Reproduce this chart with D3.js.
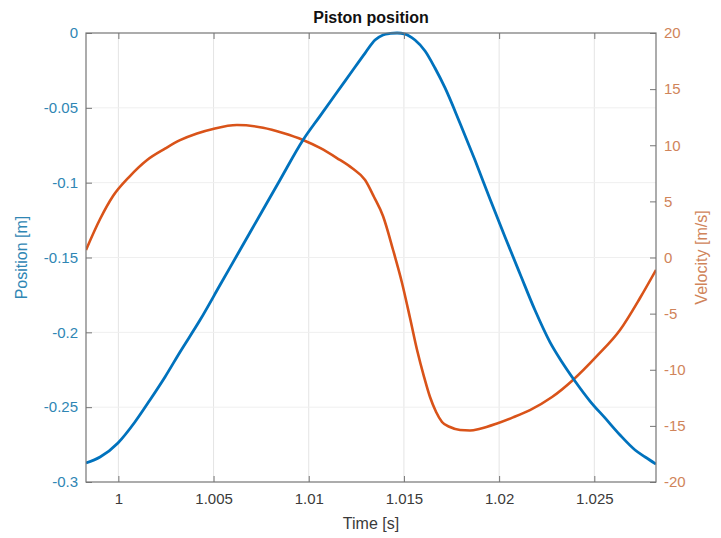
<!DOCTYPE html>
<html>
<head>
<meta charset="utf-8">
<script src="https://cdn.jsdelivr.net/npm/d3@7"></script>
<style>
  html, body { margin: 0; padding: 0; background: #ffffff; }
  svg { display: block; font-family: "Liberation Sans", Arial, Helvetica, sans-serif; }
</style>
</head>
<body>
<svg id="chart" width="721" height="538"></svg>
<script>
// ---- data ----
const xTicks = [1, 1.005, 1.01, 1.015, 1.02, 1.025];
const xTickLabels = ["1", "1.005", "1.01", "1.015", "1.02", "1.025"];
const posTicks = [0, -0.05, -0.1, -0.15, -0.2, -0.25, -0.3];
const posTickLabels = ["0", "-0.05", "-0.1", "-0.15", "-0.2", "-0.25", "-0.3"];
const velTicks = [20, 15, 10, 5, 0, -5, -10, -15, -20];
const velTickLabels = ["20", "15", "10", "5", "0", "-5", "-10", "-15", "-20"];

const posTime = [0.99830, 0.99904, 0.99998, 1.00087, 1.00166, 1.00245, 1.00324, 1.00429, 1.00534,
  1.00639, 1.00744, 1.00849, 1.00970, 1.01059, 1.01138, 1.01217, 1.01296, 1.01348, 1.01390,
  1.01428, 1.01464, 1.01506, 1.01558, 1.01611, 1.01663, 1.01716, 1.01794, 1.01873, 1.01952,
  1.02031, 1.02110, 1.02188, 1.02267, 1.02330, 1.02398, 1.02477, 1.02556, 1.02635, 1.02714,
  1.02767, 1.02824];
const posValues = [-0.2873, -0.2833, -0.2739, -0.2599, -0.2452, -0.2298, -0.2131, -0.1918, -0.1684,
  -0.1450, -0.1216, -0.0982, -0.0715, -0.0555, -0.0414, -0.0274, -0.0134, -0.0047, -0.0013,
  -0.0003, 0.0000, -0.0007, -0.0047, -0.0120, -0.0234, -0.0367, -0.0601, -0.0849, -0.1109,
  -0.1363, -0.1610, -0.1851, -0.2065, -0.2198, -0.2325, -0.2459, -0.2572, -0.2686, -0.2786,
  -0.2833, -0.2880];

const velTime = [0.99830, 0.99904, 0.99972, 1.00056, 1.00151, 1.00245, 1.00324, 1.00413, 1.00497,
  1.00623, 1.00760, 1.00865, 1.00970, 1.01059, 1.01148, 1.01227, 1.01296, 1.01343, 1.01390,
  1.01443, 1.01490, 1.01532, 1.01569, 1.01606, 1.01637, 1.01669, 1.01700, 1.01742, 1.01795,
  1.01847, 1.01900, 1.01989, 1.02073, 1.02162, 1.02278, 1.02388, 1.02514, 1.02635, 1.02740,
  1.02824];
const velValues = [0.67, 3.43, 5.48, 7.17, 8.69, 9.70, 10.45, 11.05, 11.45,
  11.80, 11.56, 11.09, 10.47, 9.76, 8.86, 7.97, 6.90, 5.39, 3.70,
  0.67, -2.27, -5.39, -8.24, -10.65, -12.43, -13.76, -14.65, -15.10, -15.37,
  -15.41, -15.25, -14.78, -14.24, -13.59, -12.43, -10.91, -8.77, -6.46, -3.61,
  -1.11];

// ---- layout ----
const L = 86, R = 656, T = 33, B = 482;
const blue = "#0072BD", orange = "#D95319";
const blueText = "#2f86b4", orangeText = "#d0845a";
const svg = d3.select("#chart");

const x = d3.scaleLinear().domain([0.99830, 1.02824]).range([L, R]);
const yL = d3.scaleLinear().domain([-0.3, 0]).range([B, T]);
const yR = d3.scaleLinear().domain([-20, 20]).range([B, T]);

// grid
const grid = svg.append("g");
grid.selectAll("line.vx").data(xTicks).join("line")
  .attr("x1", d => x(d)).attr("x2", d => x(d)).attr("y1", T).attr("y2", B)
  .attr("stroke", "#e4e4e4").attr("stroke-width", 1);
grid.selectAll("line.hy").data(posTicks.slice(1, -1)).join("line")
  .attr("x1", L).attr("x2", R).attr("y1", d => yL(d)).attr("y2", d => yL(d))
  .attr("stroke", "#efefef").attr("stroke-width", 1);

// lines
const posData = posTime.map((t, i) => [t, posValues[i]]);
const velData = velTime.map((t, i) => [t, velValues[i]]);
svg.append("clipPath").attr("id", "clip").append("rect")
  .attr("x", L).attr("y", T - 2).attr("width", R - L).attr("height", B - T + 4);
svg.append("path").datum(velData)
  .attr("clip-path", "url(#clip)")
  .attr("fill", "none").attr("stroke", orange).attr("stroke-width", 2.6)
  .attr("stroke-linejoin", "round")
  .attr("d", d3.line().x(d => x(d[0])).y(d => yR(d[1])).curve(d3.curveMonotoneX));
svg.append("path").datum(posData)
  .attr("clip-path", "url(#clip)")
  .attr("fill", "none").attr("stroke", blue).attr("stroke-width", 2.8)
  .attr("stroke-linejoin", "round")
  .attr("d", d3.line().x(d => x(d[0])).y(d => yL(d[1])).curve(d3.curveMonotoneX));

// axes
const axisColor = "#767676";
const fs = 15;
const gx = svg.append("g").attr("transform", `translate(0,${B})`)
  .call(d3.axisBottom(x).tickValues(xTicks).tickFormat((d, i) => xTickLabels[i]).tickSize(-6).tickPadding(11));
gx.select(".domain").remove();
gx.selectAll("line").attr("stroke", axisColor);
gx.selectAll("text").attr("fill", "#3a3a3a").style("font-size", fs + "px");

const gxt = svg.append("g").attr("transform", `translate(0,${T})`)
  .call(d3.axisTop(x).tickValues(xTicks).tickFormat("").tickSize(-6));
gxt.select(".domain").remove();
gxt.selectAll("line").attr("stroke", axisColor);

const gl = svg.append("g").attr("transform", `translate(${L},0)`)
  .call(d3.axisLeft(yL).tickValues(posTicks).tickFormat((d, i) => posTickLabels[i]).tickSize(-6).tickPadding(8));
gl.select(".domain").remove();
gl.selectAll("line").attr("stroke", axisColor);
gl.selectAll("text").attr("fill", blueText).style("font-size", fs + "px");

const gr = svg.append("g").attr("transform", `translate(${R},0)`)
  .call(d3.axisRight(yR).tickValues(velTicks).tickFormat((d, i) => velTickLabels[i]).tickSize(-6).tickPadding(8));
gr.select(".domain").remove();
gr.selectAll("line").attr("stroke", axisColor);
gr.selectAll("text").attr("fill", orangeText).style("font-size", fs + "px");

// box
svg.append("rect").attr("x", L).attr("y", T).attr("width", R - L).attr("height", B - T)
  .attr("fill", "none").attr("stroke", axisColor).attr("stroke-width", 1.2);

// labels
svg.append("text").attr("x", (L + R) / 2).attr("y", 23).attr("text-anchor", "middle")
  .style("font-size", "16px").style("font-weight", "bold").attr("fill", "#111")
  .text("Piston position");
svg.append("text").attr("x", (L + R) / 2).attr("y", 529).attr("text-anchor", "middle")
  .style("font-size", "16px").attr("fill", "#3a3a3a").text("Time [s]");
svg.append("text").attr("transform", `translate(27,${(T + B) / 2}) rotate(-90)`)
  .attr("text-anchor", "middle").style("font-size", "16px").attr("fill", blueText).text("Position [m]");
svg.append("text").attr("transform", `translate(707,${(T + B) / 2}) rotate(-90)`)
  .attr("text-anchor", "middle").style("font-size", "16px").attr("fill", orangeText).text("Velocity [m/s]");
</script>
</body>
</html>
